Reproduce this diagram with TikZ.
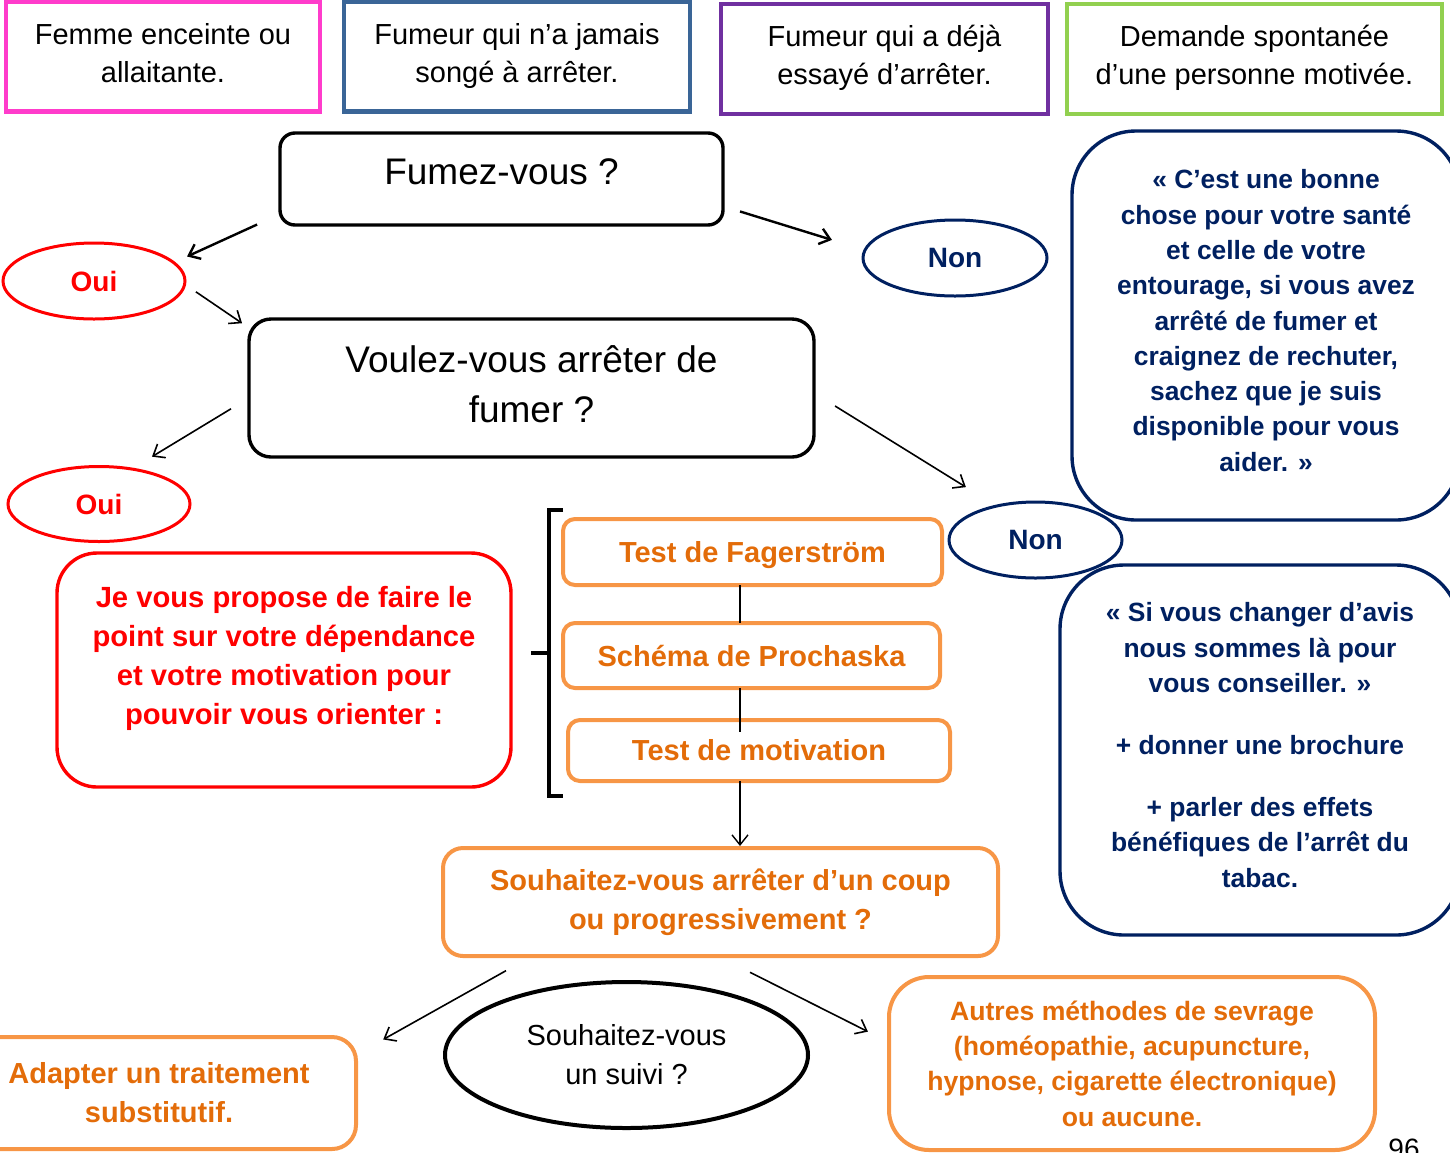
\documentclass[tikz,border=0pt]{standalone}
\usepackage{fontspec}
\setmainfont{Liberation Sans}
\usetikzlibrary{shapes.geometric,arrows.meta}
\definecolor{pinkline}{HTML}{FF3CCB}
\definecolor{steelline}{HTML}{3A6597}
\definecolor{purpleline}{HTML}{7030A0}
\definecolor{greenline}{HTML}{92D050}
\definecolor{navy}{HTML}{002060}
\definecolor{orangeline}{HTML}{F79646}
\definecolor{orangetext}{HTML}{E36C09}

\begin{document}
\begin{tikzpicture}[x=0.5pt,y=-0.5pt,
  every node/.style={inner sep=0pt,outer sep=0pt,align=center},
  topbox/.style={draw=#1,line width=2.2pt,minimum height=55pt,text depth=4pt,
    font=\fontsize{14.5}{19}\selectfont},
  askbox/.style={draw,line width=1.7pt,rounded corners=#1},
  answer/.style={ellipse,draw=#1,text=#1,line width=1.5pt,
    font=\bfseries\fontsize{14}{17}\selectfont},
  quotebox/.style={draw=navy,text=navy,line width=1.7pt,rounded corners=32pt,
    text depth=5pt,font=\bfseries\fontsize{13.2}{17.65}\selectfont},
  testbox/.style={draw=orangeline,text=orangetext,line width=2pt,rounded corners=#1,
    font=\bfseries\fontsize{14.5}{19.5}\selectfont},
  flow/.style={-{Straight Barb[length=5pt,width=8pt]},line width=0.8pt},
  joinline/.style={line width=0.7pt}]
\useasboundingbox (0,0) rectangle (1450,1152);
\clip (0,0) rectangle (1450,1152);
% Profiles
\node[topbox=pinkline,minimum width=157pt] (femme) at (163,56.5)
  {Femme enceinte ou\\allaitante.};
\node[topbox=steelline,minimum width=173pt] (jamais) at (517,56.5)
  {Fumeur qui n’a jamais\\songé à arrêter.};
\node[topbox=purpleline,minimum width=163.5pt] (deja) at (884.5,59)
  {Fumeur qui a déjà\\essayé d’arrêter.};
\node[topbox=greenline,minimum width=187.5pt] (demande) at (1254.5,59)
  {Demande spontanée\\d’une personne motivée.};
% Questions
\node[askbox=7.5pt,minimum width=221.5pt,minimum height=46pt,text depth=7pt,
  font=\fontsize{18.5}{25}\selectfont] (fumez) at (501.5,179) {Fumez-vous ?};
\node[askbox=11pt,minimum width=282.5pt,minimum height=69pt,text depth=4pt,
  font=\fontsize{18.5}{25}\selectfont] (voulez) at (531.5,388)
  {Voulez-vous arrêter de\\fumer ?};
% Answers
\node[answer=red,minimum width=91pt,minimum height=38pt] (oui1) at (94,281) {Oui};
\node[answer=navy,minimum width=92pt,minimum height=38pt] (non1) at (955,258) {Non};
\node[answer=red,minimum width=91pt,minimum height=37.5pt] (oui2) at (99,504) {Oui};
\node[answer=navy,minimum width=86.5pt,minimum height=38pt] (non2) at (1035.5,540) {Non};
% Replies
\node[quotebox,minimum width=194pt,minimum height=194.5pt] (sante) at (1266,325.5)
  {« C’est une bonne\\chose pour votre santé\\et celle de votre\\entourage, si vous avez\\
   arrêté de fumer et\\craignez de rechuter,\\sachez que je suis\\disponible pour vous\\aider. »};
\node[quotebox,minimum width=200pt,minimum height=185pt] (avis) at (1260,750)
  {« Si vous changer d’avis\\nous sommes là pour\\vous conseiller. »\\[13.4pt]
   + donner une brochure\\[13.4pt]+ parler des effets\\bénéfiques de l’arrêt du\\tabac.};
\node[draw=red,text=red,line width=1.7pt,rounded corners=20pt,minimum width=227pt,
  minimum height=117pt,text depth=14.5pt,font=\bfseries\fontsize{14.6}{19.5}\selectfont]
  (propose) at (284,670)
  {Je vous propose de faire le\\point sur votre dépendance\\et votre motivation pour\\
   pouvoir vous orienter :};
% Tests
\node[testbox=6pt,minimum width=189.5pt,minimum height=33pt,text depth=0pt] (fager)
  at (752.5,552) {Test de Fagerström};
\node[testbox=6pt,minimum width=188.5pt,minimum height=32.5pt] (prosch) at (751.5,655.5)
  {Schéma de Prochaska};
\node[testbox=6pt,minimum width=191pt,minimum height=30.5pt] (motiv) at (759,750.5)
  {Test de motivation};
\node[testbox=10pt,minimum width=277.5pt,minimum height=54pt] (souh) at (720.5,902)
  {Souhaitez-vous arrêter d’un coup\\ou progressivement ?};
\node[ellipse,draw,line width=2pt,minimum width=181.5pt,minimum height=73pt,
  font=\fontsize{14.5}{19.5}\selectfont] (suivi) at (626.5,1055)
  {Souhaitez-vous\\un suivi ?};
\node[testbox=12pt,minimum width=197pt,minimum height=56pt] (adapter) at (159,1093)
  {Adapter un traitement\\substitutif.};
\node[testbox=20pt,minimum width=243pt,minimum height=86.5pt,
  font=\bfseries\fontsize{13.3}{17.65}\selectfont] (autres) at (1132,1063.5)
  {Autres méthodes de sevrage\\(homéopathie, acupuncture,\\hypnose, cigarette électronique)\\ou aucune.};
\node[font=\fontsize{14}{17}\selectfont,anchor=base] (page) at (1404,1158) {96};
% Bracket
\draw[line width=1.6pt] (563,510) -- (549,510) -- (549,796) -- (563,796);
\draw[line width=1.6pt] (549,653) -- (531,653);
% Arrows
\draw[flow,line width=1.2pt,shorten <=12.6pt,shorten >=7.4pt] (fumez.189) -- (oui1.13);
\draw[flow,line width=1.2pt,shorten <=8.9pt,shorten >=17.3pt] (fumez.353) -- (non1.175);
\draw[flow,shorten <=6.8pt,shorten >=4.2pt] (oui1.358) -- (voulez.168);
\draw[flow,shorten <=10.5pt,shorten >=11.9pt] (voulez.182) -- (oui2.47);
\draw[flow,shorten <=12.4pt,shorten >=18pt] (voulez.359) -- (non2.139);
\coordinate (spine) at (740,0);
\draw[joinline] (fager.south -| spine) -- (prosch.north -| spine);
\draw[joinline,shorten >=-6pt] (prosch.south -| spine) -- (motiv.north -| spine);
\draw[flow,line width=0.7pt,shorten >=1pt] (motiv.south -| spine) -- (souh.north -| spine);
\draw[flow,shorten <=15pt,shorten >=15.6pt] (souh.196) -- (adapter.11);
\draw[flow,shorten <=18.1pt,shorten >=11.8pt] (souh.267) -- (autres.175);
\end{tikzpicture}
\end{document}
